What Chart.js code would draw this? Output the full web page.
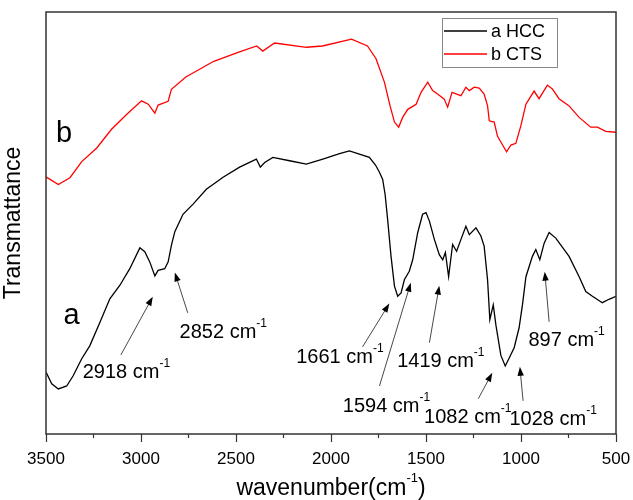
<!DOCTYPE html>
<html>
<head>
<meta charset="utf-8">
<script src="https://cdn.jsdelivr.net/npm/chart.js@4.4.1/dist/chart.umd.min.js"></script>
<style>
html, body { margin: 0; padding: 0; background: #fff; }
#wrap { width: 633px; height: 500px; }
</style>
</head>
<body>
<div id="wrap"><canvas id="grafico" width="633" height="500"></canvas></div>
<script>
// Espectros FTIR (transmitância em unidades arbitrárias)
const numOndaHCC = [3500, 3470, 3435, 3391, 3357, 3312, 3269, 3216, 3164, 3111, 3059, 3006, 2980, 2954, 2927, 2910, 2875, 2857, 2840, 2822,
    2779, 2726, 2656, 2568, 2481, 2393, 2372, 2349, 2306, 2218, 2130, 2043, 1955, 1903, 1798, 1766, 1745, 1728, 1715, 1702,
    1684, 1666, 1649, 1631, 1614, 1588, 1570, 1544, 1518, 1500, 1482, 1456, 1430, 1412, 1398, 1381, 1360, 1339, 1316, 1290,
    1272, 1237, 1211, 1194, 1176, 1164, 1146, 1132, 1106, 1083, 1062, 1036, 1010, 992, 974, 940, 922, 901, 878, 852,
    817, 747, 694, 659, 624, 572, 537, 500];
const transHCC = [15.3, 12.5, 11.3, 12.0, 14.4, 18.4, 21.5, 27.0, 32.5, 35.7, 39.6, 44.5, 43.6, 41.2, 37.9, 39.2, 39.6, 41.2, 45.1, 48.3,
    52.4, 54.8, 58.3, 61.1, 63.5, 65.4, 63.5, 64.6, 65.8, 65.0, 64.2, 65.4, 66.7, 67.3, 65.8, 64.0, 62.3, 60.6, 57.0, 51.2,
    42.5, 35.5, 33.1, 33.9, 37.0, 39.0, 41.7, 48.0, 52.4, 52.8, 50.8, 46.5, 42.9, 41.7, 43.4, 37.7, 45.3, 43.7, 46.5, 49.6,
    47.6, 49.2, 47.3, 44.9, 37.0, 27.6, 31.1, 26.3, 19.2, 16.7, 18.6, 21.0, 25.7, 31.2, 37.7, 42.5, 44.1, 41.7, 45.6, 48.1,
    46.8, 42.5, 37.7, 34.2, 33.1, 31.6, 32.4, 33.1];

const numOndaCTS = [3500, 3435, 3374, 3312, 3233, 3155, 3076, 2997, 2962, 2927, 2910, 2857, 2840, 2764, 2617, 2489, 2391, 2359, 2297, 2129,
    2045, 1892, 1808, 1763, 1719, 1689, 1666, 1644, 1623, 1596, 1570, 1552, 1526, 1491, 1465, 1439, 1404, 1386, 1363, 1339,
    1316, 1290, 1272, 1246, 1220, 1194, 1176, 1167, 1141, 1124, 1097, 1076, 1053, 1027, 1001, 974, 931, 905, 861, 835,
    800, 747, 694, 633, 598, 554, 500];
const transCTS = [61.2, 59.4, 61.0, 64.8, 68.0, 72.4, 75.9, 79.1, 78.3, 76.2, 78.1, 79.0, 81.8, 84.7, 88.4, 90.5, 92.0, 90.8, 92.7, 91.7,
    92.0, 93.6, 92.0, 89.0, 83.5, 77.9, 74.1, 72.9, 75.2, 77.1, 77.8, 78.3, 81.1, 83.5, 81.5, 80.7, 79.5, 77.6, 81.1, 80.7,
    80.3, 82.3, 81.5, 82.3, 82.1, 80.7, 77.9, 74.4, 74.1, 70.8, 68.7, 67.1, 68.7, 69.1, 73.2, 78.3, 81.4, 79.6, 82.8, 81.9,
    79.6, 77.9, 75.2, 72.9, 72.9, 71.9, 71.7];

const nomesSeries = ["a HCC", "b CTS"];
const coresSeries = ["#000000", "#ff0000"];
const ticksX = [500, 1000, 1500, 2000, 2500, 3000, 3500];

// Picos anotados
const picos = ["2918", "2852", "1661", "1594", "1419", "1082", "1028", "897"];
// posição do texto (tx, ty) e da seta (cauda ax/ay -> ponta hx/hy), em unidades dos eixos
const posPicos = [
    { tx: 3077, ty: 15.1, ax: 3106, ay: 19.3, hx: 2938, hy: 33.0 },
    { tx: 2567, ty: 24.5, ax: 2754, ay: 29.2, hx: 2822, hy: 38.7 },
    { tx: 1953, ty: 18.6, ax: 1834, ay: 21.2, hx: 1693, hy: 31.4 },
    { tx: 1708, ty: 7.1,  ax: 1745, ay: 12.0, hx: 1580, hy: 36.3 },
    { tx: 1422, ty: 17.7, ax: 1482, ay: 22.2, hx: 1430, hy: 35.6 },
    { tx: 1280, ty: 4.5,  ax: 1225, ay: 9.0,  hx: 1151, hy: 15.1 },
    { tx: 831,  ty: 4.0,  ax: 989,  ay: 8.5,  hx: 1006, hy: 16.5 },
    { tx: 760,  ty: 22.6, ax: 852,  ay: 27.1, hx: 875,  hy: 38.9 }
];
// rótulos das curvas
const rotulosCurvas = [
    { texto: "a", x: 3365, y: 28.5 },
    { texto: "b", x: 3405, y: 71.4 }
];

const FONTE = "'Liberation Sans', Arial, sans-serif";
Chart.defaults.font.family = FONTE;
Chart.defaults.color = "#000";

// texto com expoente "-1"
function textoSup(ctx, antes, sup, depois, cx, cy, tam, tamSup) {
    ctx.font = tam + "px " + FONTE;
    const w1 = ctx.measureText(antes).width;
    const w3 = ctx.measureText(depois).width;
    ctx.font = tamSup + "px " + FONTE;
    const w2 = ctx.measureText(sup).width;
    let x = cx - (w1 + w2 + w3) / 2;
    ctx.textAlign = "left";
    ctx.textBaseline = "middle";
    ctx.font = tam + "px " + FONTE;
    ctx.fillText(antes, x, cy);
    ctx.font = tamSup + "px " + FONTE;
    ctx.fillText(sup, x + w1, cy - tam * 0.45);
    ctx.font = tam + "px " + FONTE;
    ctx.fillText(depois, x + w1 + w2, cy);
}

function seta(ctx, x1, y1, x2, y2) {
    const ang = Math.atan2(y2 - y1, x2 - x1);
    const L = 9, W = 3.2;
    ctx.beginPath();
    ctx.moveTo(x1, y1);
    ctx.lineTo(x2 - Math.cos(ang) * L * 0.8, y2 - Math.sin(ang) * L * 0.8);
    ctx.stroke();
    ctx.beginPath();
    ctx.moveTo(x2, y2);
    ctx.lineTo(x2 - Math.cos(ang) * L - Math.sin(ang) * W, y2 - Math.sin(ang) * L + Math.cos(ang) * W);
    ctx.lineTo(x2 - Math.cos(ang) * L + Math.sin(ang) * W, y2 - Math.sin(ang) * L - Math.cos(ang) * W);
    ctx.closePath();
    ctx.fill();
}

const extras = {
    id: "extras",
    afterDraw(chart) {
        const ctx = chart.ctx;
        const a = chart.chartArea;
        const sx = chart.scales.x, sy = chart.scales.y;
        ctx.save();

        // moldura
        ctx.strokeStyle = "#333";
        ctx.lineWidth = 1.5;
        ctx.strokeRect(a.left, a.top, a.right - a.left, a.bottom - a.top);

        // ticks menores
        ctx.lineWidth = 1.2;
        for (let i = 0; i < ticksX.length - 1; i++) {
            const px = sx.getPixelForValue((ticksX[i] + ticksX[i + 1]) / 2);
            ctx.beginPath();
            ctx.moveTo(px, a.bottom);
            ctx.lineTo(px, a.bottom + 4);
            ctx.stroke();
        }

        // título do eixo x
        ctx.fillStyle = "#000";
        textoSup(ctx, "wavenumber(cm", "-1", ")", (a.left + a.right) / 2, 489, 23, 13);

        // rótulos a e b
        ctx.font = "29px " + FONTE;
        ctx.textAlign = "center";
        ctx.textBaseline = "middle";
        rotulosCurvas.forEach(r => {
            ctx.fillText(r.texto, sx.getPixelForValue(r.x), sy.getPixelForValue(r.y));
        });

        // anotações dos picos
        ctx.strokeStyle = "#333";
        ctx.fillStyle = "#000";
        ctx.lineWidth = 0.9;
        picos.forEach((p, i) => {
            const q = posPicos[i];
            seta(ctx, sx.getPixelForValue(q.ax), sy.getPixelForValue(q.ay),
                sx.getPixelForValue(q.hx), sy.getPixelForValue(q.hy));
            textoSup(ctx, p + " cm", "-1", "", sx.getPixelForValue(q.tx), sy.getPixelForValue(q.ty), 20, 12);
        });

        // legenda
        const lx = 442, ly = 18, lw = 115, lh = 49;
        ctx.fillStyle = "#fff";
        ctx.fillRect(lx, ly, lw, lh);
        ctx.strokeStyle = "#888";
        ctx.lineWidth = 1;
        ctx.strokeRect(lx + 0.5, ly + 0.5, lw, lh);
        nomesSeries.forEach((nome, i) => {
            const yy = ly + 13 + i * 23;
            ctx.strokeStyle = coresSeries[i];
            ctx.lineWidth = 1.3;
            ctx.beginPath();
            ctx.moveTo(lx + 2, yy);
            ctx.lineTo(lx + 45, yy);
            ctx.stroke();
            ctx.fillStyle = "#000";
            ctx.font = "18px " + FONTE;
            ctx.textAlign = "left";
            ctx.textBaseline = "middle";
            ctx.fillText(nome, lx + 49, yy + 1);
        });
        ctx.restore();
    }
};

const ctx = document.getElementById("grafico").getContext("2d");
const grafico = new Chart(ctx, {
    type: "line",
    data: {
        datasets: [
            {
                label: nomesSeries[0],
                data: numOndaHCC.map((x, i) => ({ x, y: transHCC[i] })),
                borderColor: coresSeries[0],
                borderWidth: 1.3,
                pointRadius: 0,
                tension: 0,
                fill: false
            },
            {
                label: nomesSeries[1],
                data: numOndaCTS.map((x, i) => ({ x, y: transCTS[i] })),
                borderColor: coresSeries[1],
                borderWidth: 1.3,
                pointRadius: 0,
                tension: 0,
                fill: false
            }
        ]
    },
    options: {
        responsive: false,
        animation: false,
        layout: { padding: { left: 0, top: 12, right: 17, bottom: 0 } },
        plugins: {
            legend: { display: false },
            tooltip: { enabled: false }
        },
        scales: {
            x: {
                type: "linear",
                reverse: true,
                min: 500,
                max: 3500,
                afterBuildTicks: (scale) => { scale.ticks = ticksX.map(v => ({ value: v })); },
                afterFit: (scale) => {
                    scale.height = 66;
                    scale.paddingLeft = 0;
                    scale.paddingRight = 0;
                },
                ticks: {
                    autoSkip: false,
                    maxRotation: 0,
                    padding: 7,
                    font: { size: 17 },
                    color: "#000",
                    callback: (v) => String(v)
                },
                grid: {
                    drawOnChartArea: false,
                    tickLength: 8,
                    tickWidth: 1.2,
                    tickColor: "#333"
                },
                border: { display: false }
            },
            y: {
                min: 0.7,
                max: 100,
                afterFit: (scale) => { scale.width = 46; },
                ticks: { display: false },
                grid: { display: false },
                border: { display: false },
                title: {
                    display: true,
                    text: "Transmattance",
                    font: { size: 23 },
                    color: "#000",
                    padding: 0
                }
            }
        }
    },
    plugins: [extras]
});
</script>
</body>
</html>
